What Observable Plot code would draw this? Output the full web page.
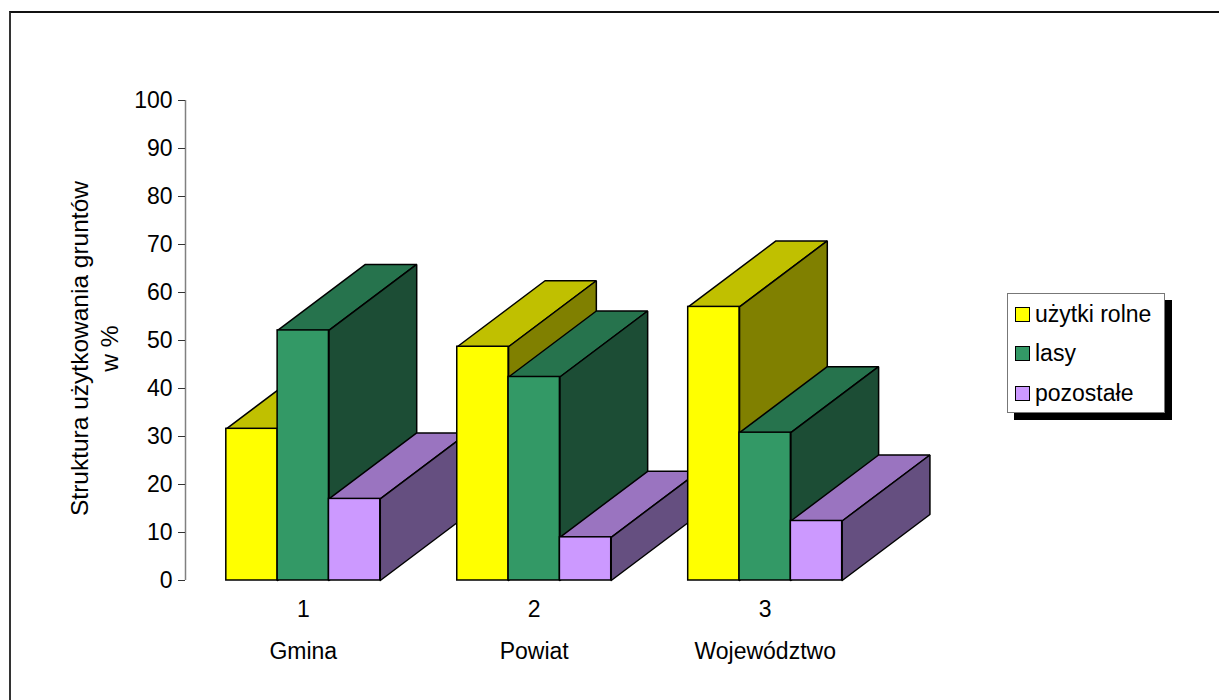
<!DOCTYPE html>
<html lang="pl">
<head>
<meta charset="utf-8">
<title>Struktura użytkowania gruntów</title>
<script src="https://cdn.jsdelivr.net/npm/d3@7"></script>
<script src="https://cdn.jsdelivr.net/npm/@observablehq/plot@0.6"></script>
<style>
  html, body { margin: 0; padding: 0; background: #fff; overflow: hidden; }
  #wrap { position: relative; width: 1219px; height: 700px; overflow: hidden;
          font-family: "Liberation Sans", Arial, sans-serif; }
  #wrap svg { position: absolute; left: 0; top: 0; max-width: none; }
  #border { position: absolute; left: 9px; top: 11px; width: 1400px; height: 900px;
            border-left: 2px solid #333; border-top: 2px solid #111; pointer-events: none; }
  #legend { position: absolute; left: 1007px; top: 293px; width: 158px; height: 120px;
            background: #fff; border: 1px solid #777; box-shadow: 7px 7px 0 #000;
            box-sizing: border-box; }
  .item { position: absolute; left: 7px; height: 24px; display: flex; align-items: center;
          font-size: 23px; color: #000; white-space: nowrap; }
  .sw { width: 13px; height: 13px; border: 1.5px solid #000; margin-right: 5px; flex: none; }
</style>
</head>
<body>
<div id="wrap">
  <div id="chart"></div>
  <div id="legend"></div>
  <div id="border"></div>
</div>
<script>
// Land-use structure (% of area) for the three administrative levels
const groupNumbers = ["1", "2", "3"];
const groupNames = ["Gmina", "Powiat", "Województwo"];
const seriesNames = ["użytki rolne", "lasy", "pozostałe"];
const uzytkiRolne = [31.6, 48.7, 57.0];
const lasy = [52.1, 42.4, 30.8];
const pozostale = [17.0, 9.0, 12.4];
const yTicks = [0, 10, 20, 30, 40, 50, 60, 70, 80, 90, 100];
const axisTitle = "Struktura użytkowania gruntów\nw %";

// Face shading for each series: front, top, side
const palette = [
  {front: "#ffff00", top: "#c0c000", side: "#808000"},
  {front: "#339966", top: "#26734d", side: "#1c4d35"},
  {front: "#cc99ff", top: "#9a74c0", side: "#654f80"}
];
const seriesValues = [uzytkiRolne, lasy, pozostale];

// Geometry of the pseudo-3D boxes, in data units
const groupWidth = 2 / 3;
const barWidth = groupWidth / 3;
const depthX = 0.38;
const depthY = 13.75;

const groupPos = groupNumbers.map(Number);

const fronts = [];
const faces = [];
groupPos.forEach((g, gi) => {
  seriesValues.forEach((values, si) => {
    const v = values[gi];
    const x1 = g - groupWidth / 2 + si * barWidth;
    const x2 = x1 + barWidth;
    const c = palette[si];
    fronts.push({x1, x2, value: v, fill: c.front, series: seriesNames[si], group: groupNames[gi]});
    const top = [[x1, v], [x2, v], [x2 + depthX, v + depthY], [x1 + depthX, v + depthY], [x1, v]];
    const side = [[x2, 0], [x2, v], [x2 + depthX, v + depthY], [x2 + depthX, depthY], [x2, 0]];
    top.forEach(([x, y]) => faces.push({id: `${gi}-${si}-top`, x, y, fill: c.top}));
    side.forEach(([x, y]) => faces.push({id: `${gi}-${si}-side`, x, y, fill: c.side}));
  });
});

const xDomain = [0.49, 3.85];
const numberLabel = new Map(groupPos.map((p, i) => [p, groupNumbers[i]]));
const nameLabel = new Map(groupPos.map((p, i) => [p, groupNames[i]]));

const chart = Plot.plot({
  width: 1219,
  height: 700,
  marginLeft: 185,
  marginRight: 1219 - 185 - Math.round((xDomain[1] - xDomain[0]) * 231),
  marginTop: 100,
  marginBottom: 120,
  style: {fontFamily: "'Liberation Sans', Arial, sans-serif", fontSize: "23px", color: "#000", background: "transparent", overflow: "visible"},
  x: {type: "linear", domain: xDomain},
  y: {domain: [0, 100]},
  color: {type: "identity"},
  marks: [
    Plot.ruleX([xDomain[0]], {y1: 0, y2: 100, stroke: "#808080", strokeWidth: 1.5}),
    Plot.axisY({ticks: yTicks, tickSize: 7, tickPadding: 6, label: null, fontSize: 23, stroke: "#333"}),
    Plot.axisX({ticks: groupPos, tickFormat: (d) => numberLabel.get(d), tickSize: 0, tickPadding: 20, label: null, fontSize: 23}),
    Plot.axisX({ticks: groupPos, tickFormat: (d) => nameLabel.get(d), tickSize: 0, tickPadding: 62, label: null, fontSize: 23}),
    Plot.text([axisTitle], {
      frameAnchor: "left", rotate: -90, textAnchor: "middle", lineAnchor: "top",
      lineHeight: 1.22, fontSize: 24.5, dx: -119, dy: 8
    }),
    Plot.line(faces, {x: "x", y: "y", z: "id", fill: "fill", stroke: "#000", strokeWidth: 1.5, strokeLinejoin: "miter"}),
    Plot.rect(fronts, {x1: "x1", x2: "x2", y1: 0, y2: "value", fill: "fill", stroke: "#000", strokeWidth: 1.5})
  ]
});
document.getElementById("chart").appendChild(chart);

// Legend with drop shadow
const legend = document.getElementById("legend");
seriesNames.forEach((name, i) => {
  const item = document.createElement("div");
  item.className = "item";
  item.style.top = (8 + i * 39.5) + "px";
  const sw = document.createElement("span");
  sw.className = "sw";
  sw.style.background = palette[i].front;
  const label = document.createElement("span");
  label.textContent = name;
  item.append(sw, label);
  legend.appendChild(item);
});
</script>
</body>
</html>
